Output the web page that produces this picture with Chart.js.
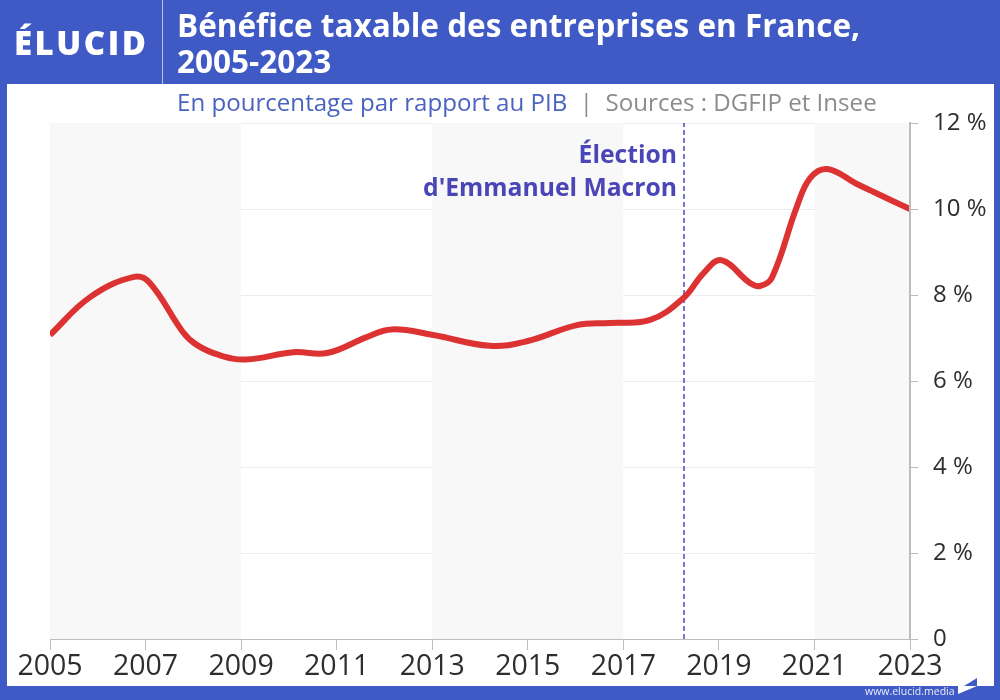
<!DOCTYPE html>
<html lang="fr">
<head>
<meta charset="utf-8">
<title>Bénéfice taxable des entreprises en France, 2005-2023</title>
<script src="https://cdn.jsdelivr.net/npm/chart.js@4/dist/chart.umd.min.js"></script>
<style>
  html, body { margin: 0; padding: 0; background: #3f5ac4; }
  body { width: 1000px; height: 700px; position: relative; overflow: hidden; font-family: "Open Sans", sans-serif; }
  #panel { position: absolute; left: 7px; top: 84px; width: 987px; height: 602px; background: #fff; }
  #chart { position: absolute; left: 0; top: 0; }
  #sep { position: absolute; left: 162px; top: 0; width: 1px; height: 84px; background: #b9c5ec; }
  #logo { position: absolute; left: 14px; top: 20px; color: #fff; font: 800 33px "Open Sans", sans-serif; letter-spacing: 2.5px; }
  #title { position: absolute; left: 177px; top: 7px; color: #fff; font: 700 31.5px/36px "Open Sans", sans-serif; white-space: nowrap; }
  #subtitle { position: absolute; left: 177px; top: 87px; font: 400 24.1px/30px "Open Sans", sans-serif; color: #4a63c0; white-space: nowrap; }
  #subtitle span { color: #8c8c8c; }
  #site { position: absolute; left: 865px; top: 684px; color: #e8ecfa; font: 400 10.5px/14px "Open Sans", sans-serif; }
  #mark { position: absolute; left: 958px; top: 678px; }
</style>
</head>
<body>
<div id="panel"></div>
<canvas id="chart" width="1000" height="700"></canvas>
<div id="sep"></div>
<div id="logo">ÉLUCID</div>
<div id="title">Bénéfice taxable des entreprises en France,<br>2005-2023</div>
<div id="subtitle">En pourcentage par rapport au PIB &nbsp;<span>|&nbsp; Sources : DGFIP et Insee</span></div>
<div id="site">www.elucid.media</div>
<svg id="mark" width="20" height="17"><polygon points="6,8 19,0 19,8" fill="#3f5ac4"/><polygon points="0,8 19,8 0,16" fill="#fff"/></svg>
<script>
// valeurs (années, % du PIB)
const years = [2005, 2005.84, 2006.76, 2007.09, 2007.78, 2008.07, 2008.55, 2009.1, 2010.1, 2010.8, 2011.63, 2012.15, 2013.02, 2014.2, 2015, 2016.03, 2016.72, 2017.56, 2018.26, 2018.68, 2019.05, 2019.65, 2019.86, 2020.11, 2020.63, 2020.91, 2021.27, 2021.89, 2022.23, 2023];
const benefice = [7.07, 7.95, 8.42, 8.28, 7.14, 6.84, 6.6, 6.5, 6.67, 6.65, 7.02, 7.2, 7.07, 6.82, 6.93, 7.3, 7.35, 7.42, 7.93, 8.51, 8.81, 8.28, 8.21, 8.4, 10.05, 10.72, 10.93, 10.58, 10.4, 10.0];
const yTicks = [0, 2, 4, 6, 8, 10, 12];
const xTicks = [2005, 2007, 2009, 2011, 2013, 2015, 2017, 2019, 2021, 2023];
const bandStarts = [2005, 2013, 2021];
const bandEnds = [2009, 2017, 2023];
const electionYear = 2018.27;
const electionLines = ['Élection', "d'Emmanuel Macron"];

const bandsPlugin = {
  id: 'bands',
  beforeDatasetsDraw(chart) {
    const { ctx, chartArea, scales } = chart;
    ctx.save();
    ctx.fillStyle = '#f8f8f8';
    bandStarts.forEach((start, i) => {
      const x0 = scales.x.getPixelForValue(start);
      const x1 = scales.x.getPixelForValue(bandEnds[i]);
      ctx.fillRect(x0, chartArea.top, x1 - x0, chartArea.bottom - chartArea.top);
    });
    ctx.restore();
  },
  afterDraw(chart) {
    const { ctx, scales } = chart;
    ctx.save();
    ctx.fillStyle = '#4b46b8';
    ctx.font = '700 24.7px "Open Sans", sans-serif';
    ctx.textAlign = 'right';
    ctx.textBaseline = 'middle';
    const x = scales.x.getPixelForValue(electionYear) - 7;
    ctx.fillText(electionLines[0], x, scales.y.getPixelForValue(11.24));
    ctx.fillText(electionLines[1], x, scales.y.getPixelForValue(10.47));
    ctx.restore();
  },
};

const chartContext = document.getElementById('chart').getContext('2d');
new Chart(chartContext, {
  type: 'scatter',
  plugins: [bandsPlugin],
  data: {
    datasets: [
      {
        data: years.map((y, i) => ({ x: y, y: benefice[i] })),
        showLine: true,
        borderColor: '#dc3232',
        borderWidth: 6,
        tension: 0.4,
        pointRadius: 0,
        borderCapStyle: 'butt',
      },
      {
        data: [{ x: electionYear, y: 0 }, { x: electionYear, y: 12 }],
        showLine: true,
        borderColor: '#4b46b8',
        borderWidth: 1.5,
        borderDash: [5, 3],
        pointRadius: 0,
      },
    ],
  },
  options: {
    responsive: false,
    animation: false,
    layout: { padding: { left: 50, top: 123, right: 0, bottom: 0 } },
    plugins: { legend: { display: false }, tooltip: { enabled: false } },
    scales: {
      x: {
        type: 'linear',
        min: 2005,
        max: 2023,
        afterBuildTicks(scale) { scale.ticks = xTicks.map(v => ({ value: v })); },
        afterFit(scale) { scale.height = 61; scale.paddingLeft = 0; scale.paddingRight = 0; },
        border: { color: '#bdbdbd', width: 1 },
        grid: { drawOnChartArea: false, tickLength: 11, tickColor: '#bdbdbd', tickWidth: 1 },
        ticks: {
          color: '#2e2e2e',
          font: { family: 'Open Sans', size: 28.5 },
          padding: 0,
          maxRotation: 0,
          autoSkip: false,
          callback: v => String(v),
        },
      },
      y: {
        position: 'right',
        min: 0,
        max: 12,
        afterBuildTicks(scale) { scale.ticks = yTicks.map(v => ({ value: v })); },
        afterFit(scale) { scale.width = 90; scale.paddingTop = 0; scale.paddingBottom = 0; },
        border: { color: '#bdbdbd', width: 2, z: 1 },
        grid: {
          color: '#ececec',
          tickLength: 8,
          tickColor: '#bdbdbd',
        },
        ticks: {
          color: '#2e2e2e',
          font: { family: 'Open Sans', size: 24 },
          padding: 15,
          callback: v => (v === 0 ? '0' : v + ' %'),
        },
      },
    },
  },
});
</script>
</body>
</html>
